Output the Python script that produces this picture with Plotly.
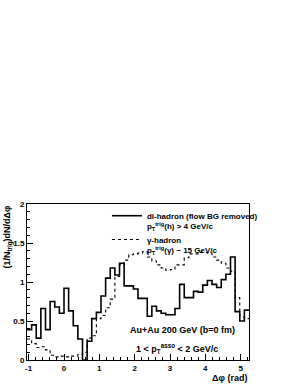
import numpy as np
import plotly.graph_objects as go

# ---- data ----
x_min = -np.pi / 3
x_max = 5 * np.pi / 3
n_bins = 48

dihadron = [0.39, 0.45, 0.28, 0.66, 0.39, 0.75, 0.68, 0.60, 0.92, 0.63,
            0.44, 0.27, 0.00, 0.24, 0.53, 0.61, 0.82, 1.05, 1.18, 1.09,
            1.24, 0.95, 0.95, 0.91, 0.79, 0.79, 0.56, 0.69, 0.63, 0.60,
            0.58, 0.58, 0.66, 0.97, 0.80, 0.80, 0.88, 0.87, 0.96, 1.02,
            0.97, 0.93, 1.03, 1.10, 1.32, 0.62, 0.50, 0.64]

gamma_hadron = [0.27, 0.21, 0.16, 0.17, 0.13, 0.06, 0.04, 0.05, 0.04, 0.05,
                0.05, 0.07, 0.10, 0.28, 0.31, 0.53, 0.57, 0.67, 0.78, 1.07,
                1.22, 1.28, 1.35, 1.36, 1.37, 1.39, 1.32, 1.27, 1.22, 1.18,
                1.15, 1.16, 1.22, 1.22, 1.31, 1.36, 1.36, 1.38, 1.38, 1.37,
                1.32, 1.28, 1.24, 1.18, 1.14, 0.80, 0.55, 0.53]

y_ticks = [0, 0.5, 1, 1.5, 2]
y_tick_text = ["0", "0.5", "1", "1.5", "2"]
x_ticks = [-1, 0, 1, 2, 3, 4, 5]
x_tick_text = ["-1", "0", "1", "2", "3", "4", "5"]

name_dihadron = "di-hadron (flow BG removed)<br>p<sub>T</sub><sup>trig</sup>(h) > 4 GeV/c"
name_gamma = "γ-hadron<br>p<sub>T</sub><sup>trig</sup>(γ) ~ 15 GeV/c"

edges = np.linspace(x_min, x_max, n_bins + 1)

FONT = "Liberation Sans, Arial, Helvetica, sans-serif"

fig = go.Figure()
fig.add_trace(go.Scatter(
    x=edges, y=list(dihadron) + [dihadron[-1]],
    mode="lines", line=dict(shape="hv", color="black", width=1.6),
    name=name_dihadron))
fig.add_trace(go.Scatter(
    x=edges, y=list(gamma_hadron) + [gamma_hadron[-1]],
    mode="lines", line=dict(shape="hv", color="black", width=1.1, dash="dot"),
    name=name_gamma))

fig.update_layout(
    width=298, height=385,
    margin=dict(l=27, r=49, t=204, b=21),
    paper_bgcolor="white", plot_bgcolor="white",
    font=dict(family=FONT, size=8, color="black", weight="bold"),
    showlegend=True,
    legend=dict(x=0.36, y=1.0, xanchor="left", yanchor="top",
                bgcolor="rgba(0,0,0,0)", valign="top",
                font=dict(size=8, family=FONT, weight="bold"),
                itemwidth=30, tracegroupgap=0),
    xaxis=dict(range=[x_min, x_max], tickvals=x_ticks, ticktext=x_tick_text,
               ticks="inside", ticklen=6, tickcolor="black", tickwidth=1,
               minor=dict(dtick=0.2, tick0=0, ticks="inside", ticklen=3, tickcolor="black"),
               showline=True, linecolor="black", linewidth=1, mirror=True,
               showgrid=False, zeroline=False,
               tickfont=dict(size=8, family=FONT, weight="bold")),
    yaxis=dict(range=[0, 2], tickvals=y_ticks, ticktext=y_tick_text,
               ticks="inside", ticklen=6, tickcolor="black", tickwidth=1,
               minor=dict(dtick=0.1, tick0=0, ticks="inside", ticklen=3, tickcolor="black"),
               showline=True, linecolor="black", linewidth=1, mirror=True,
               showgrid=False, zeroline=False,
               tickfont=dict(size=8, family=FONT, weight="bold")),
)

fig.add_annotation(text="(1/N<sub>trig</sub>)dN/dΔφ", textangle=-90,
                   xref="paper", yref="paper", x=-0.085, y=1.01,
                   xanchor="center", yanchor="top", showarrow=False,
                   font=dict(size=9, family=FONT, weight="bold"))
fig.add_annotation(text="Δφ (rad)", xref="paper", yref="paper", x=1.0, y=-0.068,
                   xanchor="right", yanchor="top", showarrow=False,
                   font=dict(size=9, family=FONT, weight="bold"))
fig.add_annotation(text="Au+Au 200 GeV (b=0 fm)", xref="paper", yref="paper",
                   x=(128 - 27) / 222, y=(364 - 333) / 160, xanchor="left", yanchor="middle",
                   showarrow=False, font=dict(size=9, family=FONT, weight="bold"))
fig.add_annotation(text="1 < p<sub>T</sub><sup>asso</sup> < 2 GeV/c", xref="paper", yref="paper",
                   x=(134 - 27) / 222, y=(364 - 352) / 160, xanchor="left", yanchor="middle",
                   showarrow=False, font=dict(size=9, family=FONT, weight="bold"))

fig.write_html("out.html", config={"displayModeBar": False},
               post_script="document.body.style.margin='0';")
